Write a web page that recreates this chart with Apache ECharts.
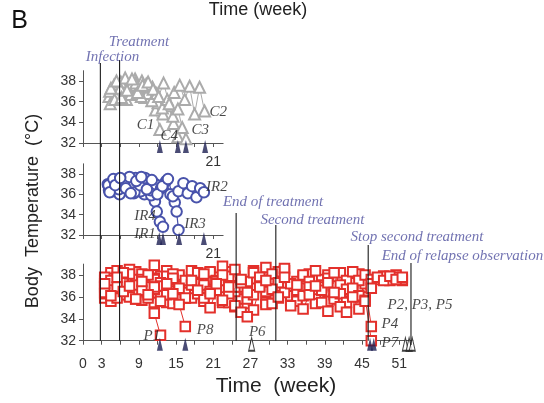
<!DOCTYPE html>
<html><head><meta charset="utf-8">
<script src="https://cdn.jsdelivr.net/npm/echarts@6/dist/echarts.min.js"></script>
<style>html,body{margin:0;padding:0;background:#fff}#c{width:544px;height:403px}</style>
</head><body><div id="c"></div>
<script>
// ---------------- DATA ----------------
// Control group (grey triangles): [week, temperature °C]
const dataC1 = [[4.2,36.5],[5.0,37.6],[5.9,36.9],[6.7,38.0],[7.5,37.3],[8.4,38.2],[9.2,37.0],[10.0,36.4],[10.9,36.9],[11.7,35.2],[12.4,33.3]];
const dataC4 = [[4.4,35.8],[5.3,36.6],[6.1,37.9],[7.0,36.2],[7.8,37.6],[8.7,37.0],[9.5,38.0],[10.4,36.8],[11.2,37.4],[12.1,35.9],[12.9,34.8],[13.8,35.6],[14.6,33.9],[15.3,32.6]];
const dataC3 = [[4.3,37.0],[5.1,36.2],[6.0,37.3],[6.8,38.3],[7.7,36.7],[8.5,37.8],[9.4,36.5],[10.2,37.7],[11.1,36.1],[11.9,36.8],[12.8,35.4],[13.6,36.2],[14.5,34.6],[15.3,35.3],[16.0,33.5],[16.6,32.4]];
const dataC2 = [[4.5,37.3],[5.4,38.0],[6.2,36.4],[7.1,37.1],[7.9,38.2],[8.8,36.9],[9.6,37.6],[10.5,37.9],[11.3,37.2],[12.2,36.5],[13.0,37.8],[13.9,35.8],[14.7,36.9],[15.6,37.6],[16.4,36.2],[17.2,37.5],[18.0,34.8],[18.8,37.4],[19.6,35.1]];
// Interrupted-treatment group (blue circles)
const dataIR1 = [[4.0,37.0],[4.8,36.3],[5.7,37.4],[6.5,36.8],[7.4,37.5],[8.2,36.1],[9.1,37.2],[9.9,36.0],[10.8,36.9],[11.6,35.3],[12.4,33.3]];
const dataIR4 = [[4.2,36.4],[5.1,37.3],[5.9,36.0],[6.8,37.4],[7.6,36.7],[8.5,37.6],[9.3,36.3],[10.2,37.1],[11.0,35.9],[11.9,34.3],[12.9,32.8]];
const dataIR3 = [[4.1,36.9],[4.9,37.5],[5.8,36.5],[6.6,37.1],[7.5,37.7],[8.3,36.2],[9.2,36.9],[10.0,37.6],[10.9,36.4],[11.7,37.0],[12.6,36.6],[13.4,37.3],[14.1,36.0],[14.8,35.2],[15.1,34.3],[15.4,32.5]];
const dataIR2 = [[4.3,36.2],[5.2,36.9],[6.0,37.6],[6.9,36.6],[7.7,36.1],[8.6,37.3],[9.4,37.7],[10.3,36.5],[11.1,37.4],[12.0,36.0],[12.8,36.8],[13.7,37.5],[14.5,35.8],[15.4,36.3],[16.2,37.1],[16.9,36.1],[17.6,36.8],[18.3,35.7],[18.9,36.6],[19.5,36.2]];
// Treated group (red squares): weekly readings
const weeksP = [3.5,4.5,5.5,6.5,7.5,8.5,9.5,10.5,11.5,12.5,13.5,14.5,15.5,16.5,17.5,18.5,19.5,20.5,21.5,22.5,23.5,24.5,25.5,26.5,27.5,28.5,29.5,30.5,31.5,32.5,33.5,34.5,35.5,36.5,37.5,38.5,39.5,40.5,41.5,42.5,43.5,44.5,45.5,46.5,47.5,48.5,49.5,50.5,51.5];
const tempP1 = [37.2,36.1,37.8,36.5,37.0,35.8,37.4,36.2,34.5,32.5];
const tempP8 = [36.4,37.5,36.9,38.2,36.0,37.1,36.6,38.0,36.9,35.6,37.2,36.3,35.3,33.3];
const tempP6 = [37.8,36.8,35.9,37.3,38.1,36.4,37.6,36.9,38.9,37.0,36.2,37.7,36.8,35.9,37.5,36.6,38.1,36.3,37.2,35.7,36.9,35.2,34.6,34.2];
const tempP4 = [36.9,37.9,37.2,36.3,37.7,38.3,36.8,37.4,36.0,37.9,38.4,36.7,37.3,35.9,37.8,36.5,37.0,38.2,36.6,37.5,36.1,37.9,35.8,36.7,38.4,37.1,38.7,37.6,38.3,36.9,35.7,37.4,36.8,38.1,36.3,37.6,35.6,37.0,38.2,36.5,37.3,36.0,37.2,33.3];
const tempP7 = [35.9,36.6,37.5,38.0,36.2,37.1,35.7,36.8,37.7,36.4,35.5,37.4,38.0,36.9,36.2,37.3,35.6,36.7,37.8,36.0,38.3,36.5,37.2,35.4,36.8,37.7,35.5,36.6,37.0,38.4,36.1,35.9,37.9,36.4,35.8,37.1,38.0,36.2,35.7,37.5,36.6,38.1,36.0,32.0];
const tempP2 = [37.5,38.2,36.7,37.0,38.5,37.3,36.6,38.0,37.6,36.3,37.9,38.1,37.0,36.4,38.4,37.2,36.8,38.3,37.5,38.8,37.9,38.5,36.9,37.4,38.2,37.8,36.5,38.1,37.3,38.6,37.0,36.6,38.0,37.4,38.4,36.9,37.7,38.2,37.1,36.7,38.3,37.5,38.0,37.6,37.7,37.9,37.6,38.0,37.5];
const tempP3 = [36.3,35.6,36.9,37.4,36.1,35.8,37.2,36.4,35.5,37.0,36.2,35.4,36.8,37.5,35.9,36.3,37.1,35.0,36.6,35.5,35.5,36.9,37.3,35.8,36.2,37.0,35.3,36.7,35.9,36.4,37.2,35.6,36.1,36.9,35.4,36.6,37.3,35.8,36.3,35.5,36.8,36.1,35.7,37.2,37.6,37.9,37.5,37.8,37.6];
const tempP5 = [37.0,37.7,38.4,36.2,36.8,37.6,38.1,35.9,36.7,37.3,36.5,37.6,35.8,36.4,37.1,38.2,35.9,36.5,37.4,38.0,36.3,35.1,37.6,36.4,34.8,36.9,37.5,35.4,36.0,37.8,35.2,37.1,34.9,36.2,37.0,35.5,34.7,36.4,35.1,34.6,36.0,34.9,35.6,36.8,37.8,37.5,37.9,37.6,37.8];
// Death / censoring arrow weeks
const arrowsC = [12.4, 15.3, 16.6, 19.7];
const arrowsIR = [12.3, 12.9, 15.5, 19.5];
const arrowsPDead = [12.4, 16.5, 46.3, 46.9];
const arrowsPCensored = [27.2, 52.0, 52.6, 53.1];
// Animal labels
const namesC = ['C1','C4','C3','C2'];
const namesIR = ['IR2','IR4','IR3','IR1'];
const namesP = ['P1','P8','P6','P2, P3, P5','P4','P7'];
// Events
const eventNames = ['Infection','Treatment','End of treatment','Second treatment','Stop second treatment','End of relapse observation'];
const eventWeeks = [2.8, 5.9, 24.7, 31.1, 46.0, 52.9];
// Tick labels
const yTicks = [32, 34, 36, 38];
const xTicksShort = [0,3,6,9,12,15,18,21];
const xLabelsShort = [21];
const xTicksLong = [0,3,6,9,12,15,18,21,24,27,30,33,36,39,42,45,48,51];
const xLabelsLong = [0,3,9,15,21,27,33,39,45,51];

// ---------------- LAYOUT ----------------
const X0 = 83, PXW = 6.2;
const shortMax = 22.6, longMax = 53.2, overlayMax = (544 - X0) / PXW;
const labelPosC = [[10.1,33.74],[13.9,32.7],[18.9,33.28],[21.8,35.0]];
const labelPosIR = [[21.6,36.72],[10.0,33.87],[18.06,33.08],[10.0,32.1]];
const labelPosP = [[11.1,32.43],[19.7,32.98],[28.1,32.8],[54.35,35.26],[49.5,33.5],[49.5,31.8]];
const eventLineTop = [63, 60, 213, 225, 245, 263];
const eventLineBottom = [340.7, 340.7, 340.7, 340.7, 340.7, 345];
const eventLabelPos = [[4.76,57.5],[9.03,42],[30.65,202],[37.0,220],[53.87,236.7],[61.2,255.7]];

const SANS = 'Liberation Sans, Arial, sans-serif';
const SERIF = 'Liberation Serif, Times New Roman, serif';

function pairs(weeks, temps){ return temps.map((t,i)=>[weeks[i], t]); }

const grids = [
  {left: X0, top: 70.7, width: shortMax*PXW, height: 72.3},
  {left: X0, top: 163.8, width: shortMax*PXW, height: 71.2},
  {left: X0, top: 264.1, width: longMax*PXW, height: 76.6},
  {left: X0, top: 0, width: overlayMax*PXW, height: 340.7}
];
function xAx(max, ticks, labels, margin){
  return {type:'value', min:0, max:max,
    axisLine:{show:true, lineStyle:{color:'#555', width:1}},
    axisTick:{show:true, length:4, customValues:ticks, lineStyle:{color:'#555'}},
    axisLabel:{show:true, customValues:labels, margin:margin, fontSize:14, fontFamily:SANS, color:'#333'},
    splitLine:{show:false}};
}
function yAx(){
  return {type:'value', min:32, max:39,
    axisLine:{show:true, lineStyle:{color:'#555', width:1}},
    axisTick:{show:true, length:4, customValues:yTicks, lineStyle:{color:'#555'}},
    axisLabel:{show:true, customValues:yTicks, margin:7, fontSize:14, fontFamily:SANS, color:'#333'},
    splitLine:{show:false}};
}
const xAxes = [xAx(shortMax, xTicksShort, xLabelsShort, 12), xAx(shortMax, xTicksShort, xLabelsShort, 12), xAx(longMax, xTicksLong, xLabelsLong, 16),
  {type:'value', min:0, max:overlayMax, show:false}];
xAxes.forEach((a,i)=>a.gridIndex=i);
const yAxes = [yAx(), yAx(), yAx(), {type:'value', min:0, max:340.7, inverse:true, show:false}];
yAxes.forEach((a,i)=>a.gridIndex=i);

const styles = {
  tri: {symbol:'emptyTriangle', symbolSize:11, color:'#ababab', bw:1.3, lw:1},
  cir: {symbol:'emptyCircle', symbolSize:10.5, color:'#4953ab', bw:1.8, lw:1.2},
  sq:  {symbol:'emptyRect', symbolSize:9.5, color:'#e3302b', bw:1.5, lw:1}
};
function animal(data, gi, kind){
  const s = styles[kind];
  return {type:'line', xAxisIndex:gi, yAxisIndex:gi, data:data, symbol:s.symbol, symbolSize:s.symbolSize,
    showAllSymbol:true, animation:false, silent:true, clip:false,
    itemStyle:{color:s.color, borderWidth:s.bw}, lineStyle:{color:s.color, width:s.lw}, z:2};
}
function arrows(weeks, gi, filled, size, off){
  return {type:'scatter', xAxisIndex:gi, yAxisIndex:gi, data:weeks.map(w=>[w,32]), symbol:'triangle',
    symbolSize:size, symbolOffset:[0,off], clip:false, silent:true, animation:false, z:6,
    itemStyle: filled ? {color:'#1d1f52'} : {color:'#ffffff', borderColor:'#111', borderWidth:1.3}};
}
function labels(names, pos, gi, color, size){
  return {type:'scatter', xAxisIndex:gi, yAxisIndex:gi, clip:false, silent:true, animation:false, z:9,
    data: names.map((n,i)=>({name:n, value:pos[i]})), symbolSize:1, itemStyle:{color:'rgba(0,0,0,0)'},
    label:{show:true, position:'inside', formatter:'{b}', fontFamily:SERIF, fontStyle:'italic', fontSize:size, color:color}};
}

const series = [];
[dataC1, dataC4, dataC3, dataC2].forEach(d=>series.push(animal(d,0,'tri')));
[dataIR1, dataIR4, dataIR3, dataIR2].forEach(d=>series.push(animal(d,1,'cir')));
[tempP4, tempP7, tempP2, tempP3, tempP5, tempP6, tempP8, tempP1].forEach(t=>series.push(animal(pairs(weeksP,t),2,'sq')));
series.push(arrows(arrowsC,0,true,[6,13],3.5));
series.push(arrows(arrowsIR,1,true,[6,13],3.5));
series.push(arrows(arrowsPDead,2,true,[6,13],3.5));
series.push(arrows(arrowsPCensored,2,false,[6,13],3.5));
series.push(labels(namesC, labelPosC, 0, '#1a1a1a', 15));
series.push(labels(namesIR, labelPosIR, 1, '#1a1a1a', 15));
series.push(labels(namesP, labelPosP, 2, '#1a1a1a', 15));
eventWeeks.forEach((w,i)=>{
  series.push({type:'line', xAxisIndex:3, yAxisIndex:3, data:[[w,eventLineTop[i]],[w,eventLineBottom[i]]],
    symbol:'none', silent:true, animation:false, clip:false, z:7, lineStyle:{color:'#1a1a1a', width:1.1}});
});
series.push(labels(eventNames, eventLabelPos, 3, '#4d4f9e', 15));

const chart = echarts.init(document.getElementById('c'), null, {renderer:'canvas'});
chart.setOption({
  animation:false,
  backgroundColor:'#ffffff',
  grid: grids,
  xAxis: xAxes,
  yAxis: yAxes,
  series: series,
  graphic: [
    {type:'text', x:19.5, y:21, style:{text:'B', fontSize:25, fontFamily:SANS, fill:'#111', align:'center', verticalAlign:'middle'}},
    {type:'text', x:258, y:10, style:{text:'Time (week)', fontSize:18, fontFamily:SANS, fill:'#222', align:'center', verticalAlign:'middle'}},
    {type:'text', x:276, y:386, style:{text:'Time  (week)', fontSize:21, fontFamily:SANS, fill:'#222', align:'center', verticalAlign:'middle'}},
    {type:'text', x:33, y:211, rotation:Math.PI/2, style:{text:'Body  Temperature  (°C)', fontSize:18, fontFamily:SANS, fill:'#222', align:'center', verticalAlign:'middle'}}
  ]
});
</script></body></html>
